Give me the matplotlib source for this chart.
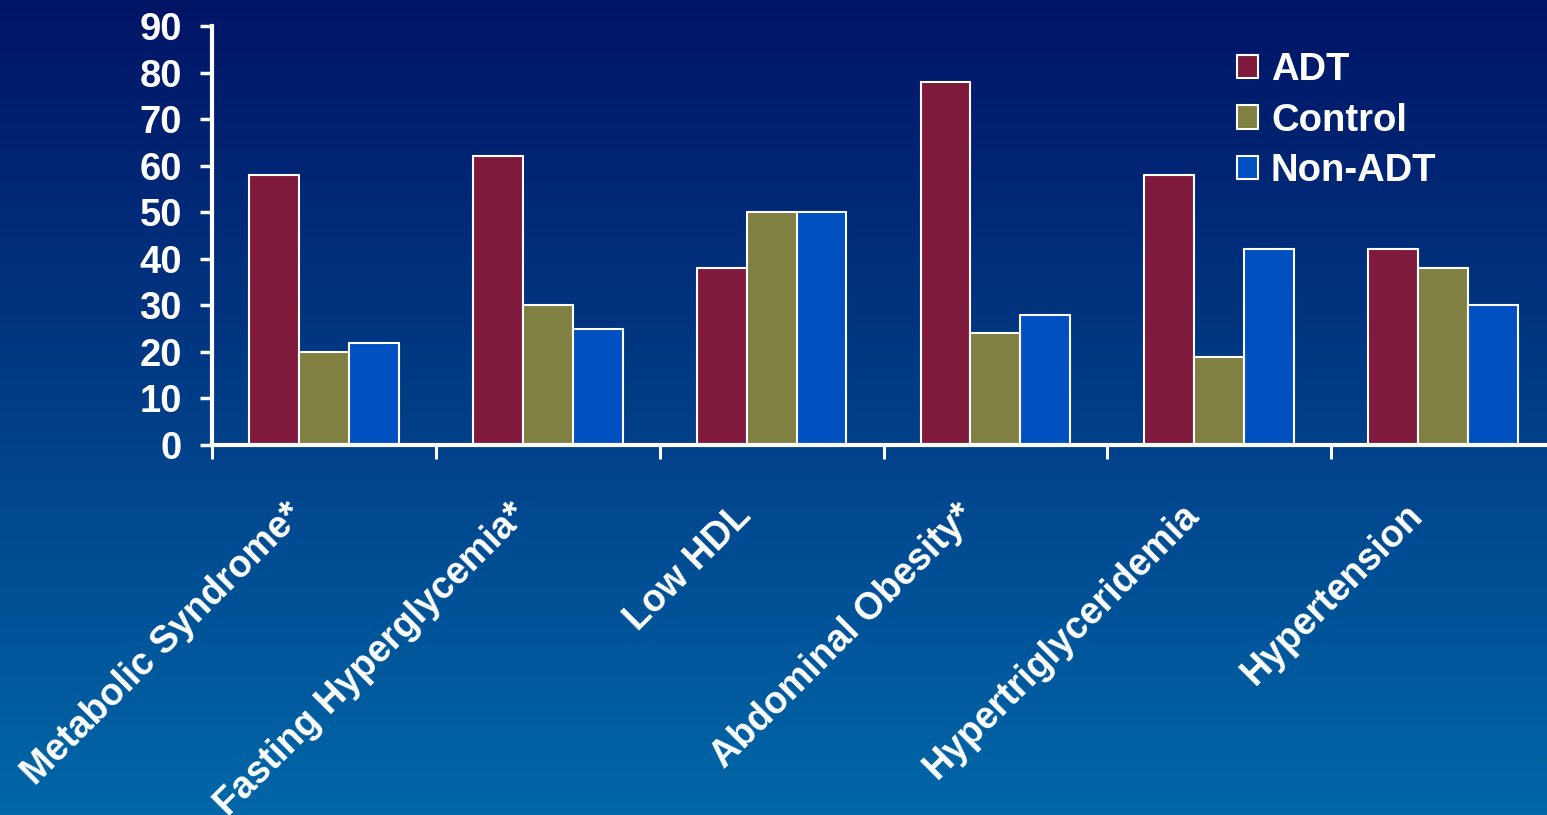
import matplotlib
matplotlib.use("Agg")
import matplotlib.pyplot as plt
import matplotlib.transforms as mtransforms
import numpy as np

categories = ["Metabolic Syndrome*", "Fasting Hyperglycemia*", "Low HDL",
              "Abdominal Obesity*", "Hypertriglyceridemia", "Hypertension"]
adt = [58, 62, 38, 78, 58, 42]
control = [20, 30, 50, 24, 19, 38]
non_adt = [22, 25, 50, 28, 42, 30]
y_ticks = [0, 10, 20, 30, 40, 50, 60, 70, 80, 90]

plt.rcParams['font.family'] = ['Liberation Sans', 'DejaVu Sans']
plt.rcParams['font.weight'] = 'bold'

W, H = 1547, 815
fig = plt.figure(figsize=(W / 100, H / 100), dpi=100)

# gradient background
bg = fig.add_axes([0, 0, 1, 1], zorder=-10)
top = np.array([0x00, 0x14, 0x66]) / 255
bot = np.array([0x00, 0x67, 0xa8]) / 255
t = np.linspace(0, 1, 256)[:, None]
grad = top[None, :] * (1 - t) + bot[None, :] * t
bg.imshow(grad[:, None, :], aspect='auto', extent=[0, 1, 0, 1])
bg.axis('off')

# axes: left 212px, right 1555px, top 26px, bottom 445px
ax = fig.add_axes([212 / W, (H - 445) / H, (1555 - 212) / W, (445 - 26) / H])
ax.set_facecolor('none')

x = np.arange(len(categories)) + 0.5
w = 0.223
ax.bar(x - w, adt, w, color='#7f1a3c', edgecolor='white', linewidth=1.5, label='ADT')
ax.bar(x, control, w, color='#808042', edgecolor='white', linewidth=1.5, label='Control')
ax.bar(x + w, non_adt, w, color='#0050c2', edgecolor='white', linewidth=1.5, label='Non-ADT')

ax.set_xlim(0, 6)
ax.set_ylim(0, 90)
ax.set_yticks(y_ticks)
ax.set_xticks(np.arange(0, 7))
ax.set_xticklabels([])

for s in ['top', 'right']:
    ax.spines[s].set_visible(False)
for s in ['left', 'bottom']:
    ax.spines[s].set_color('white')
    ax.spines[s].set_linewidth(3)

ax.tick_params(axis='y', colors='white', length=8.6, width=2.5, pad=13, labelsize=27.5)
ax.tick_params(axis='x', colors='white', length=10, width=2.2)

trans = mtransforms.blended_transform_factory(ax.transData, ax.transAxes)
for xi, name in zip(x, categories):
    ax.text(xi - 0.085, -0.172, name, transform=trans, rotation=45,
            rotation_mode='anchor', ha='right', va='baseline',
            color='white', fontsize=27, fontweight='bold')

leg = fig.legend(loc='upper left', bbox_to_anchor=(1237 / W, 1 - 52 / H),
                 frameon=False, fontsize=27.5, handlelength=0.55, handleheight=0.55,
                 handletextpad=0.34, labelspacing=0.38, borderpad=0, borderaxespad=0)
for txt in leg.get_texts():
    txt.set_color('white')

fig.savefig('out.png', dpi=100)
